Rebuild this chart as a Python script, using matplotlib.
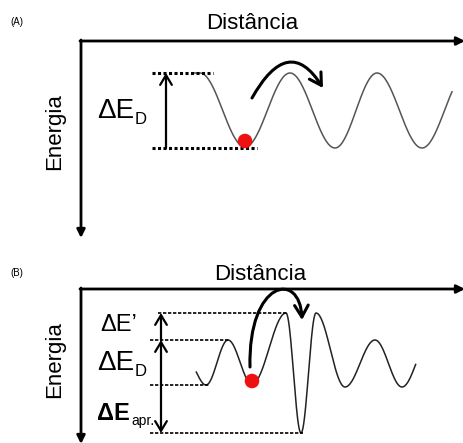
import numpy as np
import matplotlib.pyplot as plt
from matplotlib.patches import FancyArrowPatch
from matplotlib.path import Path

plt.rcParams['font.family'] = ['Liberation Sans', 'DejaVu Sans']

# potential-energy curves: alternating extrema (x, y) in picture units, plus where each curve starts/ends
wave_a_x = [155, 200, 245, 290, 335, 377, 422, 467]
wave_a_y = [73, 73, 147, 73, 148, 73, 148, 73]
wave_a_span = (193, 453)

wave_b_x = [188, 206, 228, 252, 286, 301, 316, 345, 375, 402, 430]
wave_b_y = [362, 385, 340, 384, 313, 433, 313, 387, 340, 387, 340]
wave_b_span = (196, 416)

# particle positions
dot_x = [245, 252]
dot_y = [141, 381]

# energy levels (y) and their dotted guide extents (x0, x1)
levels_a = [73, 148]
levels_a_x = [(152, 213), (152, 257)]
levels_b = [313, 340, 385, 433]
levels_b_x = [(158, 288), (150, 229), (150, 210), (150, 303)]

fig = plt.figure(figsize=(4.64, 4.43), dpi=100)
ax = fig.add_axes([0, 0, 1, 1])
ax.set_xlim(0, 464)
ax.set_ylim(443, 0)
ax.axis('off')


def smooth_wave(xs, ys, span, n=40):
    px, py = [], []
    for i in range(len(xs) - 1):
        t = np.linspace(0, 1, n)
        s = (1 - np.cos(np.pi * t)) / 2
        px.extend(xs[i] + (xs[i + 1] - xs[i]) * t)
        py.extend(ys[i] + (ys[i + 1] - ys[i]) * s)
    px, py = np.array(px), np.array(py)
    keep = (px >= span[0]) & (px <= span[1])
    return px[keep], py[keep]


def axis_arrow(x0, y0, x1, y1):
    ax.annotate('', xy=(x1, y1), xytext=(x0, y0), annotation_clip=False,
                arrowprops=dict(arrowstyle='-|>', lw=2, color='black',
                                mutation_scale=12, shrinkA=0, shrinkB=0))


def vert_arrow(x, y0, y1):
    ax.annotate('', xy=(x, y1), xytext=(x, y0), annotation_clip=False,
                arrowprops=dict(arrowstyle='->,head_length=0.5,head_width=0.3', lw=1.6,
                                color='black', mutation_scale=14, shrinkA=0, shrinkB=0))


# ---------------- panel A ----------------
ax.text(10, 22, '(A)', fontsize=7, va='center', ha='left')
ax.text(252, 23, 'Distância', fontsize=16, va='center', ha='center')
axis_arrow(80, 41, 465, 41)
axis_arrow(81, 40, 81, 238)
ax.text(55, 132, 'Energia', fontsize=16, rotation=90, va='center', ha='center')

wx, wy = smooth_wave(wave_a_x, wave_a_y, wave_a_span)
ax.plot(wx, wy, color='#555555', lw=1.1)
for y, (x0, x1) in zip(levels_a, levels_a_x):
    ax.plot([x0, x1], [y, y], color='black', lw=2.2, linestyle=(0, (1, 0.8)))
vert_arrow(166, 148, 73)
ax.text(97, 118, 'ΔE', fontsize=20, va='baseline', ha='left')
ax.text(135, 124, 'D', fontsize=12, va='baseline', ha='left')
ax.scatter([dot_x[0]], [dot_y[0]], s=110, color='#ee1111', zorder=5, edgecolors='none')

p = Path([(252, 98), (288.5, 33), (323, 88)], [Path.MOVETO, Path.CURVE3, Path.CURVE3])
ax.add_patch(FancyArrowPatch(path=p, arrowstyle='->,head_length=0.6,head_width=0.35',
                             mutation_scale=14, lw=2.2, color='black'))

# ---------------- panel B ----------------
ax.text(10, 273, '(B)', fontsize=7, va='center', ha='left')
ax.text(260, 274, 'Distância', fontsize=16, va='center', ha='center')
axis_arrow(80, 289, 465, 289)
axis_arrow(81, 288, 81, 444)
ax.text(55, 360, 'Energia', fontsize=16, rotation=90, va='center', ha='center')

wx, wy = smooth_wave(wave_b_x, wave_b_y, wave_b_span)
ax.plot(wx, wy, color='#222222', lw=1.1)
for y, (x0, x1) in zip(levels_b, levels_b_x):
    ax.plot([x0, x1], [y, y], color='black', lw=1.2, linestyle=(0, (2, 1)))
vert_arrow(161, levels_b[1], levels_b[0])
vert_arrow(161, levels_b[2], levels_b[1])
vert_arrow(161, levels_b[2], levels_b[3])

ax.text(100, 331, 'ΔE’', fontsize=17, va='baseline', ha='left')
ax.text(97, 370, 'ΔE', fontsize=20, va='baseline', ha='left')
ax.text(135, 376, 'D', fontsize=12, va='baseline', ha='left')
ax.text(97, 420, 'ΔE', fontsize=17, va='baseline', ha='left', fontweight='bold')
ax.text(131, 425, 'apr.', fontsize=10, va='baseline', ha='left')
ax.scatter([dot_x[1]], [dot_y[1]], s=110, color='#ee1111', zorder=5, edgecolors='none')

p = Path([(250, 367), (248, 280), (300, 270), (302, 320)],
         [Path.MOVETO, Path.CURVE4, Path.CURVE4, Path.CURVE4])
ax.add_patch(FancyArrowPatch(path=p, arrowstyle='->,head_length=0.6,head_width=0.35',
                             mutation_scale=14, lw=2.2, color='black'))

fig.savefig('out.png', dpi=100)
